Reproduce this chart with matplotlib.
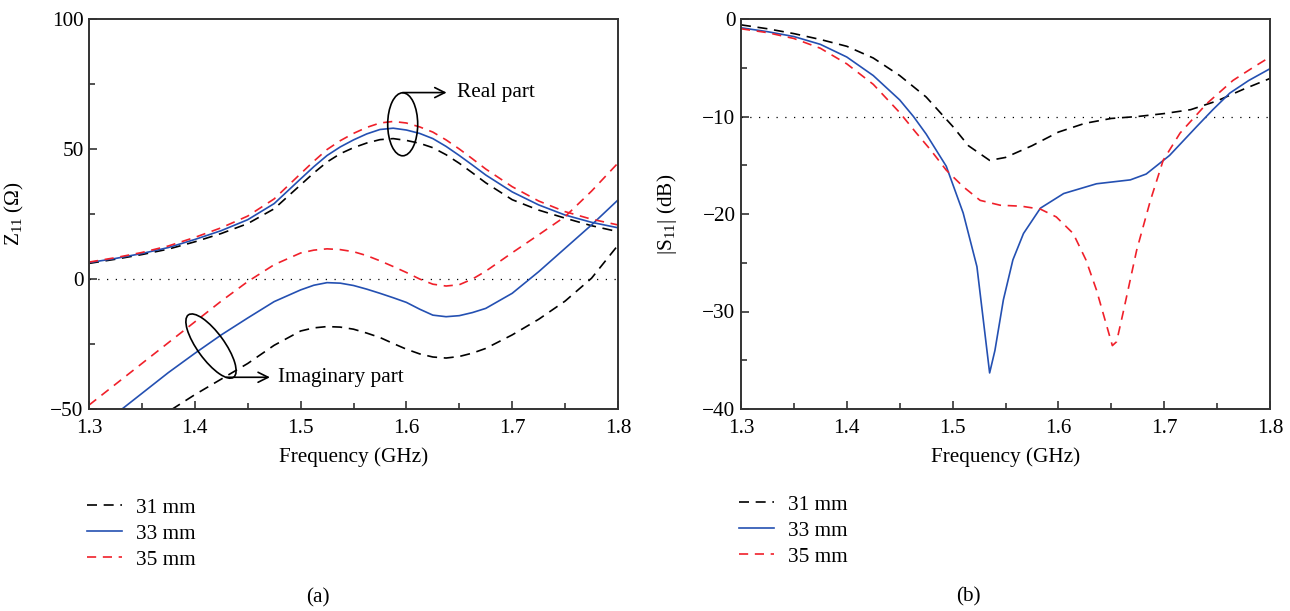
import matplotlib
matplotlib.use("Agg")
import matplotlib.pyplot as plt
from matplotlib.patches import Ellipse

# ---------------- data ----------------
freq_z = [1.3, 1.325, 1.35, 1.375, 1.4, 1.425, 1.45, 1.475, 1.5, 1.5125, 1.525,
          1.5375, 1.55, 1.5625, 1.575, 1.5875, 1.6, 1.6125, 1.625, 1.6375, 1.65,
          1.6625, 1.675, 1.7, 1.725, 1.75, 1.775, 1.8]

re_31 = [6.0, 7.6, 9.4, 11.5, 14.3, 17.5, 21.3, 27.0, 36.2, 40.8, 45.0,
         48.2, 50.5, 52.3, 53.6, 54.0, 53.3, 52.2, 50.5, 47.8, 44.5,
         40.8, 37.0, 30.5, 26.5, 23.4, 20.5, 18.2]
re_33 = [6.3, 7.9, 9.8, 12.1, 15.2, 18.6, 22.8, 29.0, 38.5, 43.2, 47.5,
         50.8, 53.5, 55.8, 57.5, 58.0, 57.3, 56.0, 54.0, 51.0, 47.5,
         43.8, 40.0, 33.5, 28.5, 24.6, 21.8, 19.7]
re_35 = [6.5, 8.2, 10.2, 12.7, 16.0, 19.7, 24.2, 30.8, 40.5, 45.3, 49.8,
         53.2, 56.0, 58.3, 60.0, 60.6, 60.0, 58.5, 56.5, 53.5, 50.0,
         46.2, 42.3, 35.5, 30.0, 25.9, 23.0, 20.8]

im_31 = [-72.0, -65.0, -58.0, -51.0, -44.5, -38.5, -32.5, -25.5, -20.0, -18.8, -18.3,
         -18.5, -19.3, -20.8, -22.5, -24.8, -27.0, -28.8, -30.0, -30.4, -29.8,
         -28.5, -26.7, -21.5, -15.5, -8.5, 0.3, 13.0]
im_33 = [-61.0, -52.0, -44.0, -36.0, -28.6, -21.5, -15.0, -8.7, -4.2, -2.4, -1.4,
         -1.6, -2.5, -3.9, -5.5, -7.2, -9.0, -11.6, -13.9, -14.5, -14.1,
         -12.9, -11.3, -5.5, 2.8, 11.8, 20.8, 30.4]
im_35 = [-48.5, -40.5, -32.5, -24.5, -16.5, -8.5, -1.0, 5.5, 10.0, 11.1, 11.6,
         11.3, 10.5, 9.0, 7.0, 4.8, 2.5, 0.0, -2.0, -2.7, -2.2,
         0.0, 3.0, 10.1, 17.0, 24.0, 33.8, 44.6]

freq_s31 = [1.3, 1.325, 1.35, 1.375, 1.4, 1.425, 1.45, 1.475, 1.5, 1.515, 1.535,
            1.55, 1.575, 1.6, 1.625, 1.65, 1.675, 1.7, 1.725, 1.75, 1.775, 1.8]
s11_31 = [-0.6, -1.0, -1.5, -2.1, -2.8, -4.0, -5.8, -8.0, -11.0, -13.0, -14.5,
          -14.2, -13.0, -11.6, -10.7, -10.2, -10.0, -9.7, -9.3, -8.4, -7.2, -6.1]

freq_s33 = [1.3, 1.325, 1.35, 1.375, 1.4, 1.425, 1.45, 1.463, 1.475, 1.494, 1.51,
            1.523, 1.535, 1.54, 1.548, 1.557, 1.567, 1.583, 1.605, 1.636, 1.668,
            1.683, 1.705, 1.731, 1.746, 1.762, 1.78, 1.8]
s11_33 = [-0.9, -1.3, -1.8, -2.6, -3.9, -5.8, -8.3, -10.0, -11.8, -15.1, -19.9,
          -25.4, -36.3, -34.0, -28.8, -24.7, -22.0, -19.4, -17.9, -16.9, -16.5,
          -15.9, -14.0, -11.0, -9.3, -7.6, -6.3, -5.1]

freq_s35 = [1.3, 1.325, 1.35, 1.375, 1.4, 1.425, 1.45, 1.465, 1.479, 1.494, 1.51,
            1.526, 1.545, 1.565, 1.583, 1.598, 1.614, 1.626, 1.636, 1.646, 1.651,
            1.655, 1.661, 1.674, 1.687, 1.699, 1.715, 1.74, 1.765, 1.785, 1.8]
s11_35 = [-1.0, -1.4, -2.0, -3.0, -4.6, -6.7, -9.6, -11.6, -13.4, -15.5, -17.2,
          -18.6, -19.1, -19.2, -19.5, -20.3, -22.0, -24.7, -27.8, -31.6, -33.5,
          -33.1, -30.2, -23.7, -18.6, -14.5, -11.7, -8.7, -6.3, -4.9, -3.9]

labels = ["31 mm", "33 mm", "35 mm"]
xticks = [1.3, 1.4, 1.5, 1.6, 1.7, 1.8]

# ---------------- style ----------------
plt.rcParams['font.family'] = ['Liberation Serif', 'DejaVu Serif']
plt.rcParams['mathtext.fontset'] = 'custom'
plt.rcParams['mathtext.rm'] = 'Liberation Serif'
plt.rcParams['mathtext.default'] = 'regular'
FS = 15.3
BLUE = '#2450b2'
RED = '#f0202a'
SPINE = '#333333'

W, H = 1290, 611
fig = plt.figure(figsize=(W / 100, H / 100), dpi=100)

def px_rect(x0, y0, x1, y1):
    return [x0 / W, 1 - y1 / H, (x1 - x0) / W, (y1 - y0) / H]

axL = fig.add_axes(px_rect(89, 19, 618, 409))
axR = fig.add_axes(px_rect(741, 19, 1270, 409))

styles = [dict(color='black', ls=(0, (6.0, 4.0)), lw=1.2),
          dict(color=BLUE, ls='-', lw=1.2),
          dict(color=RED, ls=(0, (5.5, 4.0)), lw=1.2)]

for ax in (axL, axR):
    for s in ax.spines.values():
        s.set_color(SPINE)
        s.set_linewidth(1.4)
    ax.tick_params(which='both', direction='in', top=False, right=False,
                   labelsize=FS, color=SPINE, width=1.2)
    ax.tick_params(axis='x', which='major', pad=7)
    ax.tick_params(axis='y', which='major', pad=4)
    ax.tick_params(which='major', length=6)
    ax.tick_params(which='minor', length=4)
    ax.set_xlim(1.3, 1.8)
    ax.set_xticks(xticks)
    ax.set_xticks([1.35, 1.45, 1.55, 1.65, 1.75], minor=True)
    ax.set_xticklabels([f"{t:.1f}" for t in xticks])
    ax.set_xlabel("Frequency (GHz)", fontsize=FS, labelpad=7)

# --- left: Z11 ---
axL.set_ylim(-50, 100)
axL.set_yticks([-50, 0, 50, 100])
axL.set_yticks([-25, 25, 75], minor=True)
axL.axhline(0, color='black', lw=0.9, ls=(0, (1, 6)))
hL = []
for re, im, st in zip([re_31, re_33, re_35], [im_31, im_33, im_35], styles):
    l, = axL.plot(freq_z, re, **st)
    axL.plot(freq_z, im, **st)
    hL.append(l)
axL.set_ylabel(r"Z$_{11}$ (Ω)", fontsize=FS)
axL.yaxis.set_label_coords(-0.119, 0.5)

# --- right: S11 ---
axR.set_ylim(-40, 0)
axR.set_yticks([-40, -30, -20, -10, 0])
axR.set_yticks([-35, -25, -15, -5], minor=True)
axR.axhline(-10, color='black', lw=0.9, ls=(0, (1, 6)))
hR = []
for f, s, st in zip([freq_s31, freq_s33, freq_s35], [s11_31, s11_33, s11_35], styles):
    l, = axR.plot(f, s, **st)
    hR.append(l)
axR.set_ylabel(r"|S$_{11}$| (dB)", fontsize=FS)
axR.yaxis.set_label_coords(-0.117, 0.5)

# --- annotations (ellipses drawn in pixel space) ---
fig.canvas.draw()

def data_to_in(ax, x, y):
    d = ax.transData.transform((x, y))
    return d[0] / fig.dpi, d[1] / fig.dpi

# Real part ellipse
cx, cy = data_to_in(axL, 1.5965, 59.5)
fig.patches.append(Ellipse((cx, cy), 30 / 100, 63 / 100, angle=0,
                           transform=fig.dpi_scale_trans, fill=False,
                           ec='black', lw=1.2))
axL.annotate("", xy=(1.638, 71.7), xytext=(1.5965, 71.7),
             arrowprops=dict(arrowstyle='->', color='black', lw=1.2,
                             shrinkA=0, shrinkB=0, mutation_scale=18))
axL.text(1.648, 71.7, "Real part", fontsize=FS, va='center', ha='left')

# Imaginary part ellipse (tilted)
cx, cy = data_to_in(axL, 1.4153, -25.8)
fig.patches.append(Ellipse((cx, cy), 77 / 100, 27 / 100, angle=-54,
                           transform=fig.dpi_scale_trans, fill=False,
                           ec='black', lw=1.2))
axL.annotate("", xy=(1.471, -37.8), xytext=(1.430, -37.8),
             arrowprops=dict(arrowstyle='->', color='black', lw=1.2,
                             shrinkA=0, shrinkB=0, mutation_scale=18))
axL.text(1.479, -37.8, "Imaginary part", fontsize=FS, va='center', ha='left')

# --- legends ---
legkw = dict(frameon=False, fontsize=FS, handlelength=1.65, handletextpad=0.65,
             labelspacing=0.28, borderpad=0, borderaxespad=0,
             loc='upper left', bbox_transform=fig.transFigure)
fig.legend(hL, labels, bbox_to_anchor=(87 / W, 1 - 498 / H), **legkw)
fig.legend(hR, labels, bbox_to_anchor=(739 / W, 1 - 495 / H), **legkw)

# --- captions ---
fig.text(318 / W, 1 - 598 / H, "(a)", fontsize=FS, ha='center', va='center')
fig.text(968 / W, 1 - 597 / H, "(b)", fontsize=FS, ha='center', va='center')

fig.savefig("out.png", dpi=100)
